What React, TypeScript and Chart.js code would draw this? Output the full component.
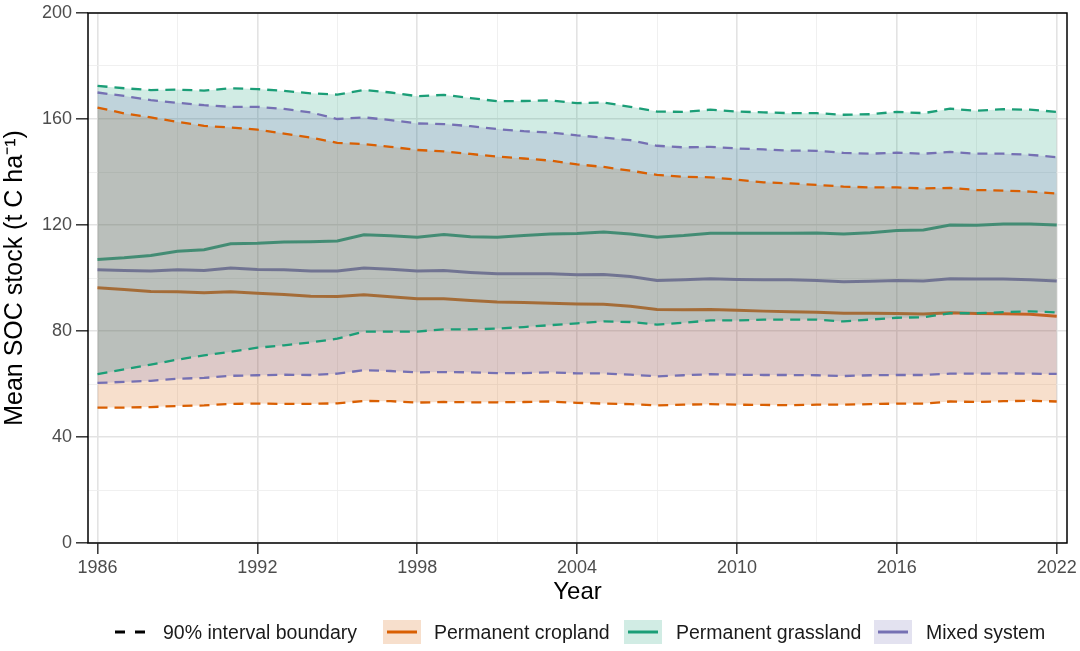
import React, { useEffect, useRef } from 'react';
import { Chart, registerables } from 'chart.js';

Chart.register(...registerables);

const FONT = "'Liberation Sans', Arial, Helvetica, sans-serif";

const years = [
  1986, 1987, 1988, 1989, 1990, 1991, 1992, 1993, 1994, 1995, 1996, 1997, 1998,
  1999, 2000, 2001, 2002, 2003, 2004, 2005, 2006, 2007, 2008, 2009, 2010, 2011,
  2012, 2013, 2014, 2015, 2016, 2017, 2018, 2019, 2020, 2021, 2022,
];

const croplandMean = [
  96.3, 95.7, 94.9, 94.8, 94.4, 94.8, 94.2, 93.8, 93.1, 93.0, 93.7, 92.9, 92.2,
  92.2, 91.5, 90.9, 90.8, 90.5, 90.2, 90.1, 89.3, 88.1, 88.0, 88.1, 87.8, 87.5,
  87.3, 87.1, 86.7, 86.7, 86.6, 86.4, 86.9, 86.6, 86.5, 86.3, 85.6,
];
const croplandUpper = [
  164.3, 162.1, 160.6, 158.9, 157.4, 156.8, 156.0, 154.5, 153.0, 151.0, 150.5,
  149.5, 148.3, 147.8, 146.8, 145.8, 145.1, 144.3, 142.9, 141.9, 140.5, 138.9,
  138.2, 138.0, 137.1, 136.1, 135.7, 135.1, 134.5, 134.2, 134.2, 133.8, 134.0,
  133.2, 133.0, 132.6, 131.9,
];
const croplandLower = [
  51.1, 51.1, 51.3, 51.7, 51.9, 52.5, 52.6, 52.5, 52.5, 52.7, 53.6, 53.5, 53.0,
  53.2, 53.1, 53.1, 53.2, 53.4, 52.9, 52.6, 52.4, 51.9, 52.2, 52.4, 52.2, 52.1,
  52.0, 52.2, 52.2, 52.4, 52.6, 52.6, 53.4, 53.2, 53.5, 53.7, 53.4,
];

const grassMean = [
  107.0, 107.6, 108.5, 110.1, 110.7, 112.9, 113.1, 113.6, 113.7, 114.0, 116.3,
  115.9, 115.4, 116.4, 115.6, 115.4, 116.0, 116.6, 116.8, 117.4, 116.6, 115.4,
  116.0, 116.9, 116.9, 116.9, 116.9, 117.0, 116.6, 117.1, 117.9, 118.1, 120.0,
  119.9, 120.4, 120.4, 120.0,
];
const grassUpper = [
  172.5, 171.6, 170.9, 171.1, 170.7, 171.6, 171.3, 170.6, 169.7, 169.2, 171.0,
  170.0, 168.6, 169.1, 167.9, 166.7, 166.8, 167.0, 166.0, 166.2, 164.6, 162.8,
  162.7, 163.5, 162.8, 162.5, 162.2, 162.2, 161.6, 161.8, 162.7, 162.2, 163.9,
  163.1, 163.7, 163.5, 162.7,
];
const grassLower = [
  63.7, 65.5, 67.3, 69.2, 70.8, 72.2, 73.7, 74.6, 75.7, 77.1, 79.8, 79.8, 79.8,
  80.6, 80.6, 80.9, 81.5, 82.2, 82.9, 83.6, 83.4, 82.4, 83.1, 84.0, 84.0, 84.3,
  84.3, 84.3, 83.6, 84.3, 85.0, 85.2, 86.7, 86.7, 87.1, 87.4, 87.0,
];

const mixedMean = [
  103.1, 102.8, 102.6, 103.1, 102.8, 103.8, 103.2, 103.1, 102.6, 102.6, 103.8,
  103.3, 102.6, 102.8, 102.1, 101.6, 101.6, 101.6, 101.2, 101.3, 100.6, 99.1,
  99.3, 99.7, 99.4, 99.3, 99.3, 99.1, 98.6, 98.8, 99.1, 98.9, 99.7, 99.6, 99.6,
  99.3, 98.9,
];
const mixedUpper = [
  170.0, 168.7, 167.1, 166.1, 165.2, 164.6, 164.6, 163.8, 162.5, 160.0, 160.6,
  159.6, 158.3, 158.1, 157.3, 156.2, 155.4, 154.9, 153.8, 153.0, 152.0, 149.9,
  149.3, 149.5, 148.9, 148.5, 148.1, 148.0, 147.2, 146.9, 147.3, 146.9, 147.6,
  146.9, 146.9, 146.5, 145.6,
];
const mixedLower = [
  60.4, 60.8, 61.2, 62.0, 62.3, 63.1, 63.3, 63.5, 63.4, 63.9, 65.2, 64.9, 64.4,
  64.5, 64.4, 64.1, 64.1, 64.4, 64.0, 64.0, 63.5, 62.9, 63.3, 63.7, 63.5, 63.4,
  63.4, 63.3, 63.0, 63.3, 63.4, 63.4, 63.9, 63.9, 64.0, 63.9, 63.8,
];

const xGridValues = [1986, 1989, 1992, 1995, 1998, 2001, 2004, 2007, 2010, 2013, 2016, 2019, 2022];
const xTickLabels = [1986, 1992, 1998, 2004, 2010, 2016, 2022];
const yGridValues = [0, 20, 40, 60, 80, 100, 120, 140, 160, 180, 200];
const yTickLabels = [0, 40, 80, 120, 160, 200];

const seriesNames = ['Permanent cropland', 'Permanent grassland', 'Mixed system'];
const seriesColors = ['#d95f02', '#1b9e77', '#7570b3'];
const ribbonColors = ['rgba(217,95,2,0.2)', 'rgba(27,158,119,0.2)', 'rgba(117,112,179,0.2)'];
const legendTitle = '90% interval boundary';

const meanSeries = [croplandMean, grassMean, mixedMean];
const upperSeries = [croplandUpper, grassUpper, mixedUpper];
const lowerSeries = [croplandLower, grassLower, mixedLower];

const toPoints = (arr: number[]) => years.map((yr, i) => ({ x: yr, y: arr[i] }));

const panelBorder = {
  id: 'panelBorder',
  afterDraw(chart: any) {
    const { ctx, chartArea } = chart;
    const { left, top, right, bottom } = chartArea;
    ctx.save();
    ctx.strokeStyle = '#000';
    ctx.lineWidth = 1.5;
    ctx.strokeRect(left, top, right - left, bottom - top);
    ctx.restore();
  },
};

export default function App() {
  const canvasRef = useRef<HTMLCanvasElement | null>(null);

  useEffect(() => {
    if (!canvasRef.current) return;
    const datasets: any[] = [];
    meanSeries.forEach((arr, i) => {
      datasets.push({
        label: seriesNames[i] + ' mean',
        data: toPoints(arr),
        borderColor: seriesColors[i],
        borderWidth: 3,
        pointRadius: 0,
        tension: 0,
        fill: false,
        order: 100,
      });
    });
    lowerSeries.forEach((arr, i) => {
      datasets.push({
        label: seriesNames[i] + ' lower edge',
        data: toPoints(arr),
        borderColor: 'rgba(0,0,0,0)',
        borderWidth: 0,
        pointRadius: 0,
        tension: 0,
        fill: false,
        order: 99,
      });
    });
    upperSeries.forEach((arr, i) => {
      datasets.push({
        label: seriesNames[i] + ' ribbon',
        data: toPoints(arr),
        borderColor: 'rgba(0,0,0,0)',
        borderWidth: 0,
        pointRadius: 0,
        tension: 0,
        fill: { target: 3 + i },
        backgroundColor: ribbonColors[i],
        order: 90 - i * 5,
      });
    });
    [upperSeries, lowerSeries].forEach((group, g) => {
      group.forEach((arr, i) => {
        datasets.push({
          label: seriesNames[i] + (g === 0 ? ' upper' : ' lower'),
          data: toPoints(arr),
          borderColor: seriesColors[i],
          borderWidth: 2.3,
          borderDash: [10, 7],
          pointRadius: 0,
          tension: 0,
          fill: false,
          order: 10,
        });
      });
    });

    const isMajorX = (v: any) => xTickLabels.includes(v);
    const isMajorY = (v: any) => yTickLabels.includes(v);

    const chart = new Chart(canvasRef.current, {
      type: 'line',
      data: { datasets },
      options: {
        animation: false,
        responsive: false,
        events: [],
        layout: { padding: { left: 0, top: 12, right: 13, bottom: 44 } },
        plugins: {
          legend: { display: false },
          tooltip: { enabled: false },
        },
        scales: {
          x: {
            type: 'linear',
            min: 1985.643,
            max: 2022.387,
            afterBuildTicks: (s: any) => {
              s.ticks = xGridValues.map((v) => ({ value: v }));
            },
            afterFit: (s: any) => {
              s.height = 64;
            },
            border: { display: false },
            grid: {
              color: (c: any) => (isMajorX(c.tick?.value) ? '#e3e3e3' : '#eeeeee'),
              lineWidth: (c: any) => (isMajorX(c.tick?.value) ? 1.6 : 0.9),
              tickColor: (c: any) => (isMajorX(c.tick?.value) ? '#333333' : 'rgba(0,0,0,0)'),
              tickLength: 11,
              tickWidth: 1.5,
              drawTicks: true,
            },
            ticks: {
              autoSkip: false,
              maxRotation: 0,
              padding: 3,
              color: '#4d4d4d',
              font: { family: FONT, size: 18 },
              callback: (v: any) => (isMajorX(v) ? String(v) : ''),
            },
            title: {
              display: true,
              text: 'Year',
              color: '#000',
              font: { family: FONT, size: 24 },
              padding: { top: 0, bottom: 0 },
            },
          },
          y: {
            type: 'linear',
            min: 0,
            max: 200,
            afterBuildTicks: (s: any) => {
              s.ticks = yGridValues.map((v) => ({ value: v }));
            },
            afterFit: (s: any) => {
              s.width = 88;
            },
            border: { display: false },
            grid: {
              color: (c: any) => (isMajorY(c.tick?.value) ? '#e3e3e3' : '#eeeeee'),
              lineWidth: (c: any) => (isMajorY(c.tick?.value) ? 1.6 : 0.9),
              tickColor: (c: any) => (isMajorY(c.tick?.value) ? '#333333' : 'rgba(0,0,0,0)'),
              tickLength: 12,
              tickWidth: 1.5,
              drawTicks: true,
            },
            ticks: {
              autoSkip: false,
              padding: 4,
              color: '#4d4d4d',
              font: { family: FONT, size: 18, lineHeight: 1 },
              callback: (v: any) => (isMajorY(v) ? String(v) : ''),
            },
            title: {
              display: true,
              text: 'Mean SOC stock (t C ha\u207B\u00B9)',
              color: '#000',
              font: { family: FONT, size: 25 },
              padding: { top: 0, bottom: 0 },
            },
          },
        },
      } as any,
      plugins: [panelBorder],
    });
    return () => chart.destroy();
  }, []);

  const legendText: React.CSSProperties = {
    position: 'absolute',
    top: 620,
    height: 24,
    lineHeight: '24px',
    fontFamily: FONT,
    fontSize: 19.5,
    color: '#1a1a1a',
    whiteSpace: 'nowrap',
  };
  const keyLefts = [383, 624, 874];
  const textLefts = [434, 676, 926];

  return (
    <div style={{ position: 'absolute', left: 0, top: 0, width: 1080, height: 651, background: '#fff', overflow: 'hidden' }}>
      <canvas ref={canvasRef} width={1080} height={651} style={{ position: 'absolute', left: 0, top: 0, width: 1080, height: 651 }} />
      <svg style={{ position: 'absolute', left: 110, top: 620 }} width={40} height={24}>
        <line x1={5} y1={12} x2={35} y2={12} stroke="#000" strokeWidth={3} strokeDasharray="10 10" />
      </svg>
      <div style={{ ...legendText, left: 163 }}>{legendTitle}</div>
      {seriesNames.map((name, i) => (
        <React.Fragment key={name}>
          <svg style={{ position: 'absolute', left: keyLefts[i], top: 620 }} width={38} height={24}>
            <rect x={0} y={0} width={38} height={24} fill={ribbonColors[i]} />
            <line x1={4} y1={12} x2={34} y2={12} stroke={seriesColors[i]} strokeWidth={3} />
          </svg>
          <div style={{ ...legendText, left: textLefts[i] }}>{name}</div>
        </React.Fragment>
      ))}
    </div>
  );
}
